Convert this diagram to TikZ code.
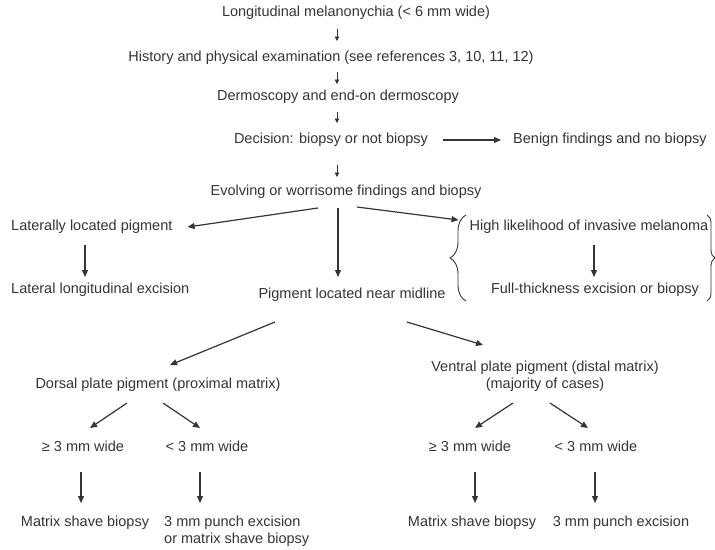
\documentclass[tikz,border=0pt]{standalone}
\usepackage{fontspec}
\setmainfont{Liberation Sans}
\usetikzlibrary{calc,arrows.meta,decorations.pathreplacing}
\definecolor{ink}{HTML}{353535}
\begin{document}
\begin{tikzpicture}[x=1pt,y=-1pt,
  t/.style={inner sep=0pt,text=ink,font=\fontsize{14.5}{17.5}\selectfont,text height=10.5pt,text depth=3pt},
  tm/.style={inner sep=0pt,text=ink,font=\fontsize{14.5}{17.5}\selectfont},
  arr/.style={draw=ink,line width=1.2pt,-{Triangle[length=7pt,width=6pt]}},
  sarr/.style={draw=ink,line width=0.8pt,-{Triangle[length=4.5pt,width=4.5pt]}},
  brc/.style={draw=ink,line width=0.9pt,decorate,decoration={brace,amplitude=#1}}
]
\fill[white] (0,0) rectangle (715,549);
\useasboundingbox (0,0) rectangle (715,549);

\node[t] (L1) at (356,13) {Longitudinal melanonychia (< 6 mm wide)};
\node[t] (L2) at (331,58) {History and physical examination (see references 3, 10, 11, 12)};
\node[t] (L3) at (338,97) {Dermoscopy and end-on dermoscopy};
\node[t] (L4) at (331,140) {Decision: biopsy or not biopsy};
\node[t,anchor=west] (ben) at (513,140) {Benign findings and no biopsy};
\node[t] (L5) at (346,192) {Evolving or worrisome findings and biopsy};
\node[t,anchor=west] (lat) at (11,227) {Laterally located pigment};
\node[t,anchor=west] (latx) at (11,290) {Lateral longitudinal excision};
\node[t] (high) at (589,227) {High likelihood of invasive melanoma};
\node[t] (full) at (595,290) {Full-thickness excision or biopsy};
\node[t] (mid) at (352,295) {Pigment located near midline};
\node[t] (dor) at (158,385) {Dorsal plate pigment (proximal matrix)};
\node[tm,align=center] (ven) at (545,376) {Ventral plate pigment (distal matrix)\\(majority of cases)};
\node[t] (d1) at (83,448) {≥ 3 mm wide};
\node[t] (d2) at (207,448) {< 3 mm wide};
\node[t] (v1) at (470,448) {≥ 3 mm wide};
\node[t] (v2) at (596,448) {< 3 mm wide};
\node[t] (dm) at (85,523) {Matrix shave biopsy};
\node[tm,align=left,anchor=west] (dp) at (164,531) {3 mm punch excision\\or matrix shave biopsy};
\node[t] (vm) at (472,523) {Matrix shave biopsy};
\node[t] (vp) at (621,523) {3 mm punch excision};

% small arrows
\draw[sarr] ($(L1)+(-19,16)$) -- ($(L2)+(6,-17)$);
\draw[sarr] ($(L2)+(6,14)$) -- ($(L3)+(-1,-13)$);
\draw[sarr] ($(L3)+(-1,15)$) -- ($(L4)+(6,-17)$);
\draw[sarr] ($(L4)+(6,25)$) -- ($(L5)+(-9,-15)$);

% main arrows
\draw[arr] ($(L4.east)+(15,0)$) -- ($(ben.west)+(-12,0)$);
\draw[arr] ($(L5)+(-28,16)$) -- ($(lat.east)+(15,0)$);
\draw[arr] ($(L5)+(11,15)$) -- ($(high.west)+(-11,-7)$);
\draw[arr] ($(L5)+(-8,16)$) -- ($(mid)+(-14,-18)$);
\draw[arr] ($(lat.west)+(74,18)$) -- ($(latx.west)+(74,-13)$);
\draw[arr] ($(high)+(5,18)$) -- ($(full)+(-1,-13)$);
\draw[arr] ($(mid)+(-77,27)$) -- ($(dor)+(12,-20)$);
\draw[arr] ($(mid)+(55,27)$) -- ($(ven)+(-62,-31)$);
\draw[arr] ($(dor)+(-31,18)$) -- ($(d1)+(7,-20)$);
\draw[arr] ($(dor)+(5,18)$) -- ($(d2)+(-7,-20)$);
\draw[arr] ($(ven)+(-32,27)$) -- ($(v1)+(5,-20)$);
\draw[arr] ($(ven)+(5,27)$) -- ($(v2)+(-8,-20)$);
\draw[arr] ($(d1)+(-2,24)$) -- ($(dm)+(-4,-20)$);
\draw[arr] ($(d2)+(-7,24)$) -- ($(dp.west)+(36,-28)$);
\draw[arr] ($(v1)+(5,24)$) -- ($(vm)+(3,-20)$);
\draw[arr] ($(v2)+(-1,24)$) -- ($(vp)+(-26,-20)$);

% braces
\draw[brc=16pt] (466,301) -- (466,215);
\draw[brc=8pt] (707,215) -- (707,301);
\end{tikzpicture}
\end{document}
